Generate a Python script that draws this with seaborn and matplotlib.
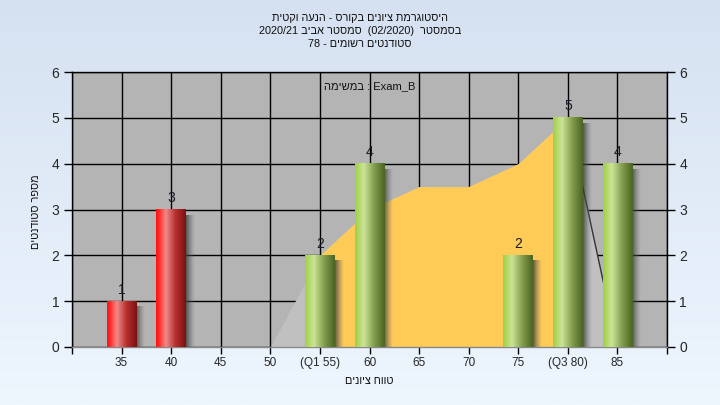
import numpy as np
import matplotlib
matplotlib.use("Agg")
import matplotlib.pyplot as plt
from matplotlib.colors import LinearSegmentedColormap
import seaborn as sns

# ---------------- data ----------------
score_bins = [35, 40, 45, 50, 55, 60, 65, 70, 75, 80, 85]
counts = [1, 3, 0, 0, 2, 4, 0, 0, 2, 5, 4]
tick_labels = ['35', '40', '45', '50', '(Q1 55)', '60', '65', '70', '75', '(Q3 80)', '85']
pass_mark = 55
curve_x = [50, 55, 60, 65, 70, 75, 80, 85]
curve_y = [0, 2, 3, 3.5, 3.5, 4, 5, 0]
q1, q3 = 55, 80
y_ticks = [0, 1, 2, 3, 4, 5, 6]

title_lines = ["היסטוגרמת ציונים בקורס - הנעה וקטית",
               "בסמסטר  (02/2020)  סמסטר אביב 2020/21",
               "סטודנטים רשומים - 78"]
y_label = "מספר סטודנטים"
x_label = "טווח ציונים"
task_word = "במשימה"
task_name = "Exam_B"


def is_heb(s):
    return any('\u0590' <= c <= '\u05ff' for c in s)


def rtl(s):
    toks = s.split(' ')[::-1]
    out = []
    for t in toks:
        out.append(t[::-1] if is_heb(t) else t)
    return ' '.join(out)


sns.set_style("ticks")
plt.rcParams['font.family'] = ['Liberation Sans', 'DejaVu Sans']

W, H = 720, 405
fig = plt.figure(figsize=(W / 100, H / 100), dpi=100)

# background gradient
bg = fig.add_axes([0, 0, 1, 1], zorder=-10)
grad_v = np.linspace(0, 1, 256).reshape(-1, 1)
bg_cmap = LinearSegmentedColormap.from_list('bg', ['#d5e1f1', '#eef6fe'])
bg.imshow(grad_v, aspect='auto', cmap=bg_cmap, extent=[0, 1, 0, 1], origin='upper')
bg.set_axis_off()

L, R, T, B = 72, 667, 72, 347
ax = fig.add_axes([L / W, 1 - B / H, (R - L) / W, (B - T) / H])
ax.set_facecolor('#b4b4b4')

# distribution area
ax.fill_between(curve_x, curve_y, 0, color='#c0c0c0', lw=0, zorder=1)
cx = np.array(curve_x)
cy = np.array(curve_y)
m = (cx >= q1) & (cx <= q3)
ax.fill_between(cx[m], cy[m], 0, color='#ffcb57', lw=0, zorder=1.5)
ax.plot(curve_x[-2:], curve_y[-2:], color='#333333', lw=1, zorder=1.6)

# bars
colors = ['#e02020' if s < pass_mark else '#8fbf3f' for s in score_bins]
sns.barplot(x=score_bins, y=counts, native_scale=True, width=0.6,
            palette=colors, hue=score_bins, legend=False, ax=ax, zorder=3,
            saturation=1)

cmap_g = LinearSegmentedColormap.from_list('g', [(0, '#a0cf45'), (0.3, '#cbe497'),
                                                 (0.65, '#819c4c'), (1, '#4a6422')])
cmap_r = LinearSegmentedColormap.from_list('r', [(0, '#ff1010'), (0.12, '#ff3030'),
                                                 (0.33, '#f08a8a'), (0.65, '#b83030'),
                                                 (1, '#7a1010')])
grad_h = np.linspace(0, 1, 256).reshape(1, -1)
shadow_cmap = LinearSegmentedColormap.from_list(
    'sh', [(0, (0.22, 0.22, 0.22, 0.8)), (1, (0.45, 0.45, 0.45, 0.0))])

patches = sorted([p for p in ax.patches], key=lambda p: p.get_x())
for p, s, c in zip(patches, score_bins, counts):
    x0, w, h = p.get_x(), p.get_width(), p.get_height()
    p.set_visible(False)
    if h <= 0:
        continue
    ax.imshow(grad_h, extent=[x0 + w, x0 + w + 0.9, 0, h - 0.12], aspect='auto',
              cmap=shadow_cmap, zorder=2.5, interpolation='bilinear')
    ax.imshow(grad_h, extent=[x0, x0 + w, 0, h], aspect='auto',
              cmap=cmap_r if s < pass_mark else cmap_g, zorder=3,
              interpolation='bilinear')
    ax.text(x0 + w / 2, h + 0.1, str(c), ha='center', va='bottom',
            fontsize=10, color='#1a1a2a', zorder=4)

ax.set_xlim(30, 90)
ax.set_ylim(0, 6)
ax.set_xticks([30] + score_bins + [90])
ax.set_xticklabels([''] + tick_labels + [''], fontsize=8.5)
ax.set_yticks(y_ticks)
ax.set_yticklabels([str(v) for v in y_ticks], fontsize=10)
ax.tick_params(axis='y', right=True, labelright=True, direction='out', length=6,
               width=1, color='black', pad=3)
ax.tick_params(axis='x', direction='out', length=5, width=1, color='black', pad=2)
ax.set_xlabel('')
ax.set_ylabel('')

ax.grid(True, color='black', lw=1)
ax.set_axisbelow(True)
for sp in ax.spines.values():
    sp.set_visible(True)
    sp.set_color('black')
    sp.set_linewidth(1)
ax.spines['bottom'].set_color('#888888')

ax.text(0.5, 1 - 14 / 275, rtl(task_word) + " : " + task_name, transform=ax.transAxes,
        ha='center', va='center', fontsize=8, color='#111111', zorder=5)

for i, line in enumerate(title_lines):
    fig.text(0.5, 1 - (18 + 13 * i) / H, rtl(line), ha='center', va='center',
             fontsize=7.8, color='#111111')

fig.text(36 / W, 1 - 212 / H, rtl(y_label), rotation=90, ha='center', va='center',
         fontsize=7.8, color='#111111')
fig.text((L + R) / 2 / W, 1 - 381 / H, rtl(x_label), ha='center', va='center',
         fontsize=7.8, color='#111111')

fig.savefig('out.png', dpi=100)
